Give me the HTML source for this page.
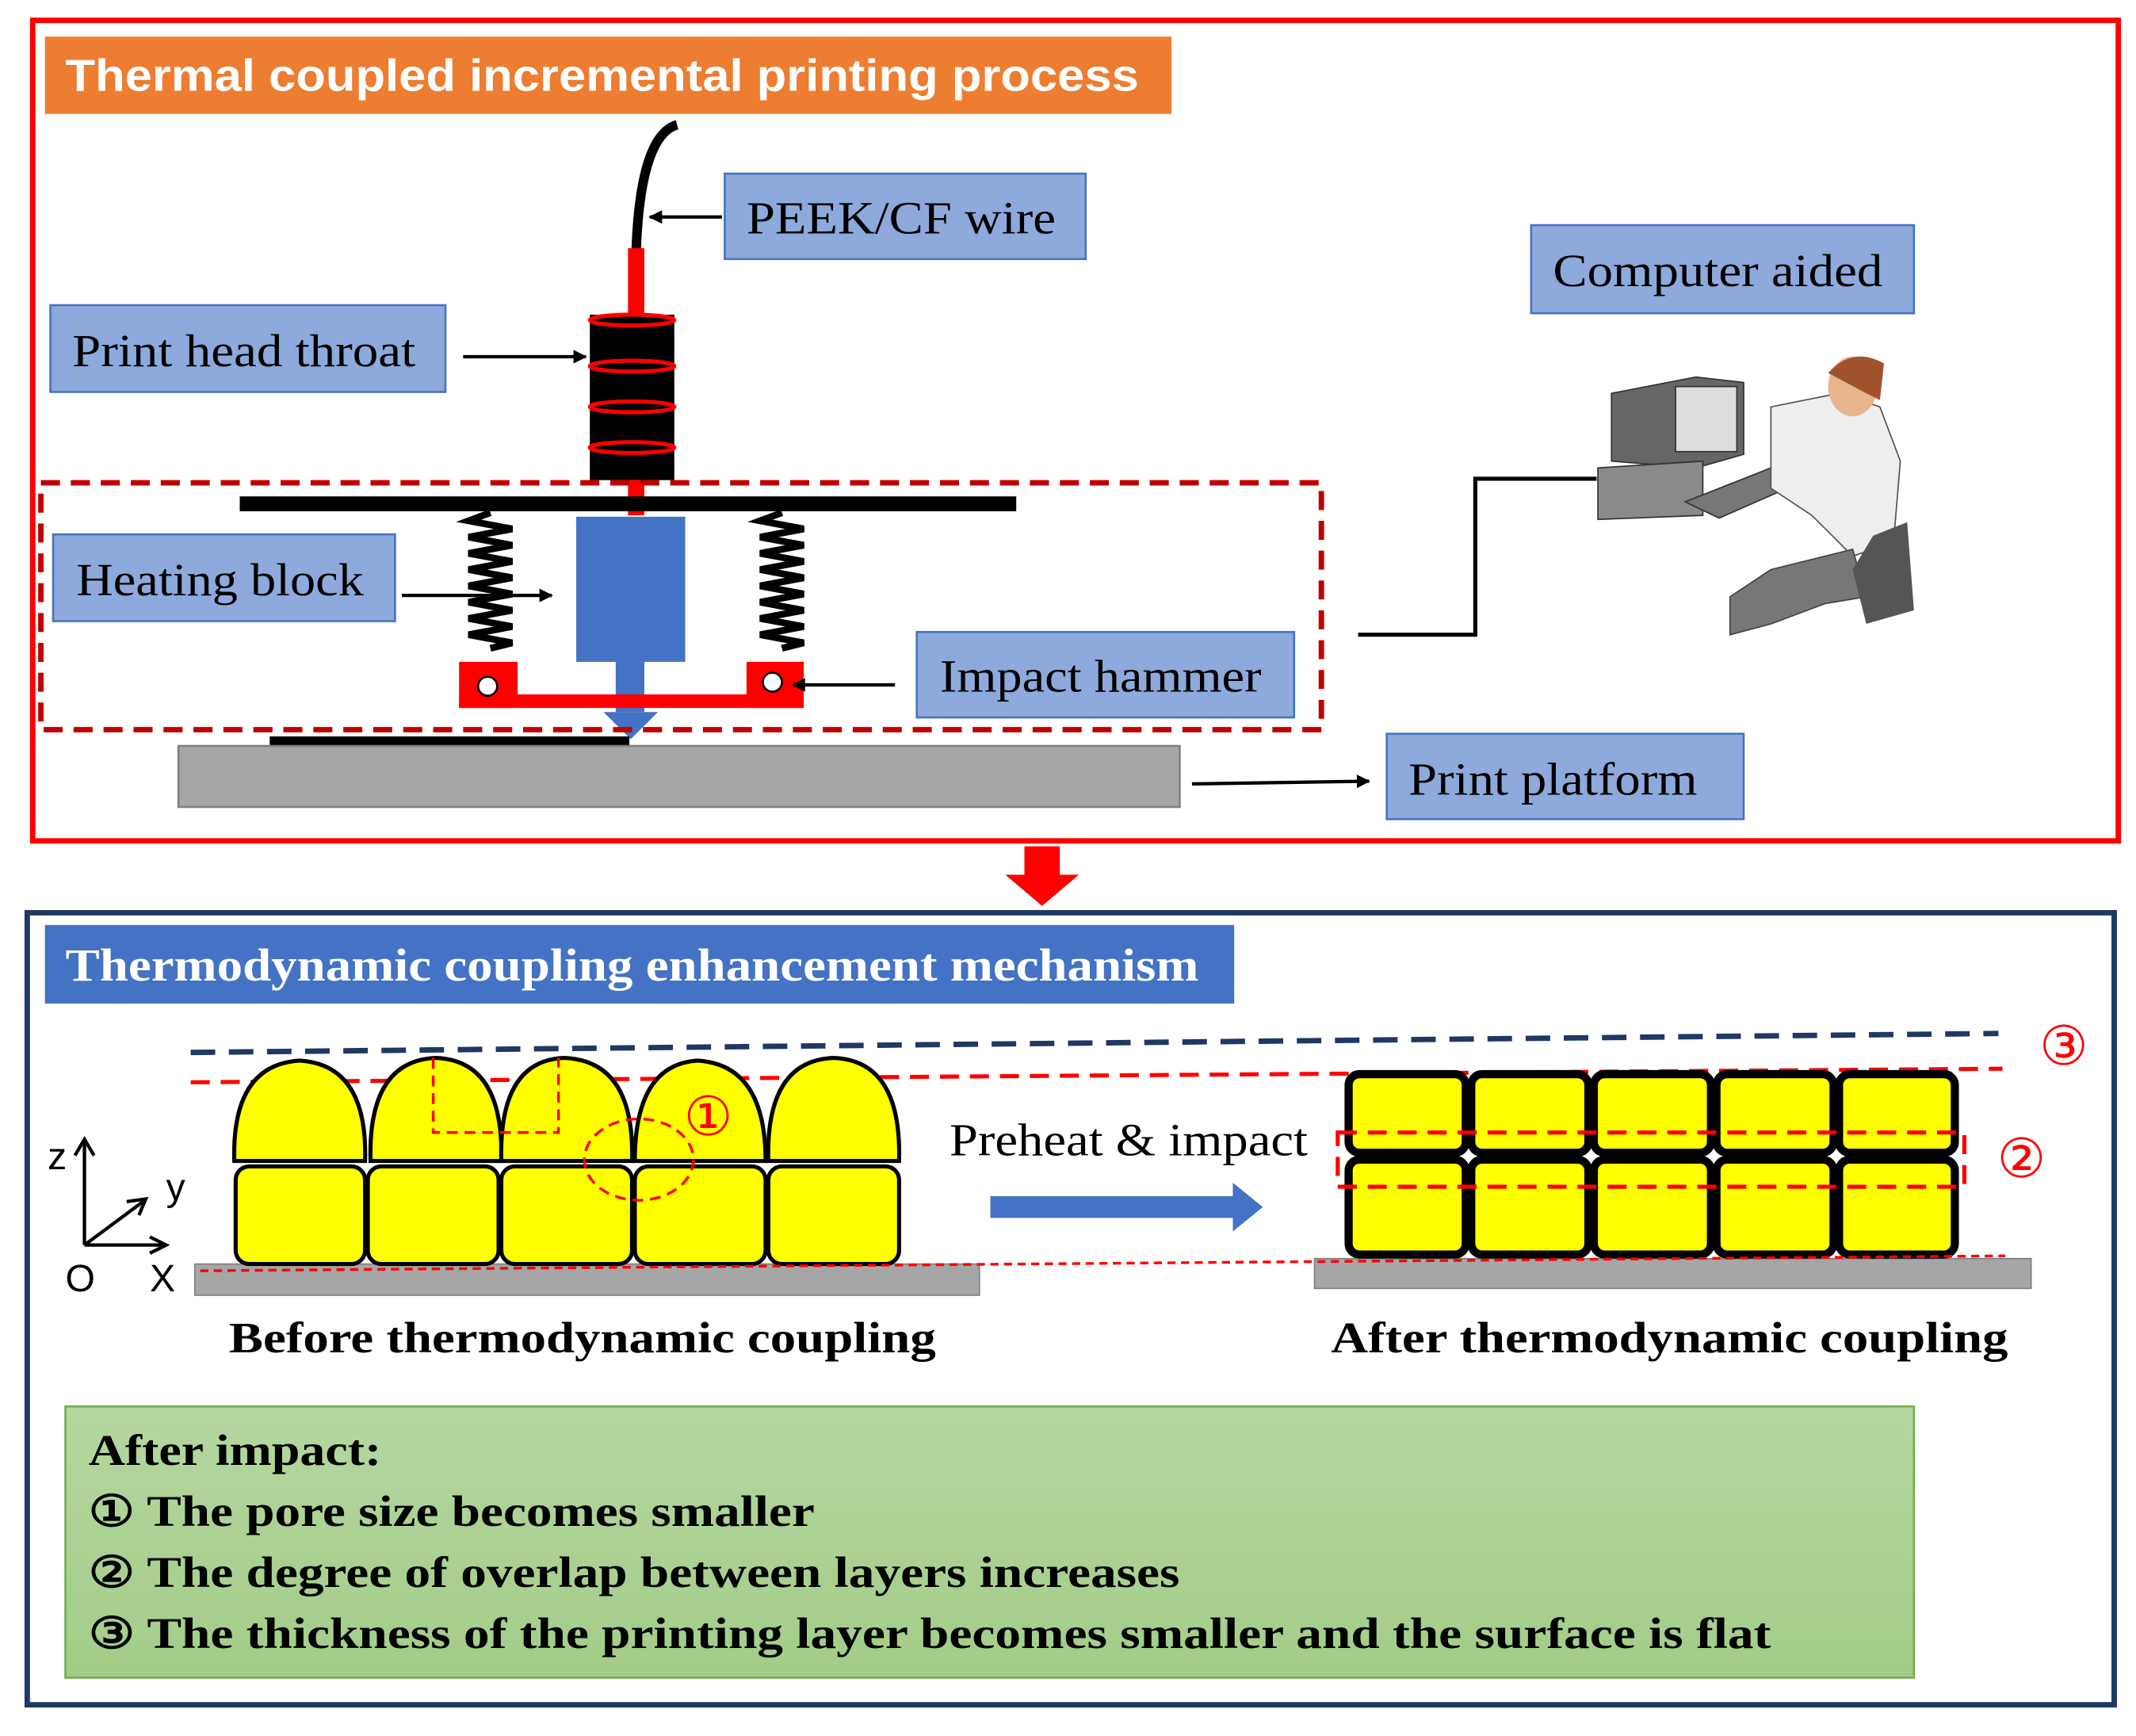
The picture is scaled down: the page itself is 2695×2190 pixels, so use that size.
<!DOCTYPE html>
<html><head><meta charset="utf-8"><style>
html,body{margin:0;padding:0;background:#fff;}
svg{display:block;}
.s{font-family:"Liberation Serif",serif;}
.a{font-family:"Liberation Sans",sans-serif;}
</style></head><body>
<svg width="2695" height="2190" viewBox="0 0 1568 1280" preserveAspectRatio="none" xmlns="http://www.w3.org/2000/svg">
<defs>
<marker id="ar" markerWidth="10" markerHeight="10" refX="9" refY="5" orient="auto" markerUnits="userSpaceOnUse"><path d="M0,0 L10,5 L0,10 z" fill="#000"/></marker>
<linearGradient id="gg" x1="0" y1="0" x2="0" y2="1"><stop offset="0" stop-color="#B5D7A0"/><stop offset="1" stop-color="#A3CC88"/></linearGradient>
</defs>
<rect width="1568" height="1280" fill="#fff"/>
<rect x="24" y="15" width="1531" height="605" fill="none" stroke="#FF0000" stroke-width="4"/>
<rect x="33" y="27" width="827" height="57" fill="#ED7D31"/>
<text x="48" y="67" class="a" font-size="33" font-weight="bold" fill="#fff" textLength="788" lengthAdjust="spacingAndGlyphs">Thermal coupled incremental printing process</text>
<path d="M497,92 Q470,100 467,185" fill="none" stroke="#000" stroke-width="7"/>
<rect x="461" y="183" width="12" height="48" fill="#FF0000"/>
<rect x="433" y="232" width="62" height="122" fill="#000"/>
<g fill="none" stroke="#FF0000" stroke-width="3">
<ellipse cx="464" cy="236" rx="31" ry="4"/><ellipse cx="464" cy="270" rx="31" ry="4"/><ellipse cx="464" cy="300" rx="31" ry="4"/><ellipse cx="464" cy="330" rx="31" ry="4"/></g>
<rect x="461" y="354" width="12" height="26" fill="#FF0000"/>
<rect x="176" y="366" width="570" height="11" fill="#000"/>
<g fill="none" stroke="#000" stroke-width="5">
<path d="M360,378 l-16,6 l32,6 l-32,6 l32,6 l-32,6 l32,6 l-32,6 l32,6 l-32,6 l32,6 l-32,6 l32,6 l-32,6 l32,6 l-32,6 l32,6 l-16,4"/>
<path d="M574,378 l-16,6 l32,6 l-32,6 l32,6 l-32,6 l32,6 l-32,6 l32,6 l-32,6 l32,6 l-32,6 l32,6 l-32,6 l32,6 l-32,6 l32,6 l-16,4"/>
</g>
<rect x="423" y="381" width="80" height="107" fill="#4472C4"/>
<rect x="452" y="488" width="21" height="37" fill="#4472C4"/>
<rect x="337" y="512" width="253" height="10" fill="#FF0000"/>
<rect x="337" y="488" width="43" height="34" fill="#FF0000"/>
<rect x="548" y="488" width="42" height="34" fill="#FF0000"/>
<circle cx="358" cy="506" r="7" fill="#fff" stroke="#000" stroke-width="1.5"/>
<circle cx="567" cy="503" r="7" fill="#fff" stroke="#000" stroke-width="1.5"/>
<path d="M443,525 L483,525 L463,545 z" fill="#4472C4"/>
<rect x="30" y="356" width="940" height="182" fill="none" stroke="#C00000" stroke-width="4" stroke-dasharray="14,8"/>
<rect x="198" y="543" width="264" height="7" fill="#000"/>
<rect x="131" y="550" width="735" height="45" fill="#A6A6A6" stroke="#7F7F7F" stroke-width="1.5"/>
<g fill="#8EA9DB" stroke="#4472C4" stroke-width="1.5">
<rect x="532" y="128" width="265" height="63"/>
<rect x="37" y="225" width="290" height="64"/>
<rect x="39" y="394" width="251" height="64"/>
<rect x="673" y="466" width="277" height="63"/>
<rect x="1018" y="541" width="262" height="63"/>
<rect x="1124" y="166" width="281" height="65"/>
</g>
<g class="s" font-size="34" fill="#000" lengthAdjust="spacingAndGlyphs">
<text x="548" y="172" textLength="227" lengthAdjust="spacingAndGlyphs">PEEK/CF wire</text>
<text x="53" y="270" textLength="252" lengthAdjust="spacingAndGlyphs">Print head throat</text>
<text x="56" y="439" textLength="211" lengthAdjust="spacingAndGlyphs">Heating block</text>
<text x="690" y="510" textLength="236" lengthAdjust="spacingAndGlyphs">Impact hammer</text>
<text x="1034" y="586" textLength="212" lengthAdjust="spacingAndGlyphs">Print platform</text>
<text x="1140" y="211" textLength="242" lengthAdjust="spacingAndGlyphs">Computer aided</text>
</g>
<g stroke="#000" stroke-width="2.5" marker-end="url(#ar)">
<line x1="530" y1="160" x2="477" y2="160"/>
<line x1="340" y1="263" x2="430" y2="263"/>
<line x1="295" y1="439" x2="405" y2="439"/>
<line x1="657" y1="505" x2="582" y2="505"/>
<line x1="875" y1="578" x2="1005" y2="576"/>
</g>
<path d="M997,468 L1083,468 L1083,353 L1172,353" fill="none" stroke="#000" stroke-width="3"/>
<path d="M1183,290 L1245,278 L1280,282 L1280,335 L1245,345 L1183,340 z" fill="#666" stroke="#333"/>
<rect x="1230" y="285" width="45" height="48" fill="#ddd" stroke="#333"/>
<path d="M1173,345 L1250,340 L1250,380 L1173,383 z" fill="#8a8a8a" stroke="#333"/>
<path d="M1237,370 L1300,345 L1330,352 L1262,382 z" fill="#777" stroke="#333"/>
<path d="M1300,300 L1350,290 L1380,300 L1395,340 L1390,400 L1360,410 L1330,380 L1300,360 z" fill="#eee" stroke="#555"/>
<ellipse cx="1360" cy="285" rx="18" ry="22" fill="#E8B58C"/>
<path d="M1342,275 Q1360,255 1383,268 L1380,295 L1370,290 z" fill="#A0522D"/>
<path d="M1360,405 L1300,420 L1270,440 L1270,468 L1300,460 L1340,445 L1370,440 z" fill="#777" stroke="#444"/>
<path d="M1375,395 L1400,385 L1405,450 L1370,460 L1360,420 z" fill="#555"/>
<rect x="752" y="624" width="26" height="21" fill="#FF0000"/>
<path d="M738,645 L792,645 L765,668 z" fill="#FF0000"/>
<rect x="20" y="673" width="1532" height="584" fill="none" stroke="#1F3864" stroke-width="4"/>
<rect x="33" y="682" width="873" height="58" fill="#4472C4"/>
<text x="48" y="723" class="s" font-size="34" font-weight="bold" fill="#fff" textLength="832" lengthAdjust="spacingAndGlyphs">Thermodynamic coupling enhancement mechanism</text>
<line x1="140" y1="776" x2="1467" y2="762" stroke="#1F3864" stroke-width="4" stroke-dasharray="18,10"/>
<line x1="140" y1="798" x2="1470" y2="788" stroke="#FF0000" stroke-width="3" stroke-dasharray="14,8"/>
<rect x="143" y="932" width="576" height="23" fill="#A6A6A6" stroke="#7F7F7F"/>
<g fill="#FFFF00" stroke="#000" stroke-width="3">
<rect x="173" y="860" width="95" height="72" rx="10"/>
<rect x="270" y="860" width="96" height="72" rx="10"/>
<rect x="368" y="860" width="96" height="72" rx="10"/>
<rect x="466" y="860" width="96" height="72" rx="10"/>
<rect x="564" y="860" width="96" height="72" rx="10"/>
<path d="M172,856 Q170,785 220,782 Q270,785 268,856 z"/>
<path d="M272,856 Q270,782 320,780 Q370,782 368,856 z"/>
<path d="M368,856 Q366,782 414,780 Q466,782 464,856 z"/>
<path d="M466,856 Q466,785 512,782 Q562,785 562,856 z"/>
<path d="M564,856 Q562,782 612,780 Q662,782 660,856 z"/>
</g>
<path d="M318,780 L318,835 L410,835 L410,780" fill="none" stroke="#FF0000" stroke-width="2" stroke-dasharray="8,5"/>
<ellipse cx="469" cy="855" rx="40" ry="30" fill="none" stroke="#FF0000" stroke-width="2" stroke-dasharray="8,5"/>
<text x="502" y="837" class="a" font-size="40" fill="#FF0000">①</text>
<g stroke="#000" stroke-width="2.5" fill="none">
<line x1="62" y1="918" x2="62" y2="842"/><path d="M55,852 L62,840 L69,852"/>
<line x1="62" y1="918" x2="120" y2="918"/><path d="M110,912 L122,918 L110,924"/>
<line x1="62" y1="918" x2="105" y2="886"/><path d="M93,886 L107,884 L102,896"/>
</g>
<g class="a" font-size="28" fill="#000"><text x="35" y="862">z</text><text x="122" y="885">y</text><text x="48" y="952">O</text><text x="110" y="952">X</text></g>
<text x="697" y="852" class="s" font-size="34" fill="#000" textLength="263" lengthAdjust="spacingAndGlyphs">Preheat &amp; impact</text>
<rect x="727" y="882" width="180" height="16" fill="#4472C4"/>
<path d="M905,872 L927,890 L905,908 z" fill="#4472C4"/>
<rect x="965" y="928" width="526" height="22" fill="#A6A6A6" stroke="#7F7F7F"/>
<g fill="#FFFF00" stroke="#000" stroke-width="6">
<rect x="990" y="792" width="86" height="58" rx="8"/><rect x="1080" y="792" width="86" height="58" rx="8"/><rect x="1170" y="792" width="86" height="58" rx="8"/><rect x="1260" y="792" width="86" height="58" rx="8"/><rect x="1350" y="792" width="85" height="58" rx="8"/>
<rect x="990" y="855" width="86" height="70" rx="8"/><rect x="1080" y="855" width="86" height="70" rx="8"/><rect x="1170" y="855" width="86" height="70" rx="8"/><rect x="1260" y="855" width="86" height="70" rx="8"/><rect x="1350" y="855" width="85" height="70" rx="8"/>
</g>
<rect x="982" y="835" width="460" height="40" fill="none" stroke="#FF0000" stroke-width="3" stroke-dasharray="14,8"/>
<line x1="147" y1="937" x2="1472" y2="926" stroke="#FF0000" stroke-width="2" stroke-dasharray="6,4"/>
<text x="1497" y="785" class="a" font-size="40" fill="#FF0000">③</text>
<text x="1466" y="868" class="a" font-size="40" fill="#FF0000">②</text>
<g class="s" font-size="32" font-weight="bold" fill="#000">
<text x="168" y="997" textLength="519" lengthAdjust="spacingAndGlyphs">Before thermodynamic coupling</text>
<text x="977" y="997" textLength="497" lengthAdjust="spacingAndGlyphs">After thermodynamic coupling</text>
</g>
<rect x="48" y="1037" width="1357" height="200" fill="url(#gg)" stroke="#70AD47" stroke-width="1.5"/>
<g class="s" font-size="32" font-weight="bold" fill="#000">
<text x="65" y="1080" textLength="215" lengthAdjust="spacingAndGlyphs">After impact:</text>
<text x="65" y="1125" textLength="533" lengthAdjust="spacingAndGlyphs">① The pore size becomes smaller</text>
<text x="65" y="1170" textLength="801" lengthAdjust="spacingAndGlyphs">② The degree of overlap between layers increases</text>
<text x="65" y="1215" textLength="1235" lengthAdjust="spacingAndGlyphs">③ The thickness of the printing layer becomes smaller and the surface is flat</text>
</g>
</svg>
</body></html>
